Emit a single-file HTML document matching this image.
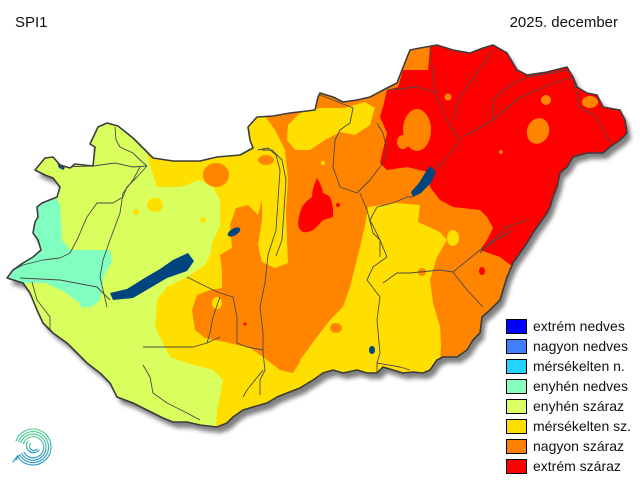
<!DOCTYPE html>
<html>
<head>
<meta charset="utf-8">
<style>
html,body{margin:0;padding:0;background:#fff;}
svg{display:block;}
text{font-family:"Liberation Sans",Arial,sans-serif;fill:#111;}
</style>
</head>
<body>
<svg width="640" height="480" viewBox="0 0 640 480" xmlns="http://www.w3.org/2000/svg">
<defs>
<clipPath id="hu">
<path id="hup" d="M35,170 L45,158 L53,157 L60,165 L70,168 L75,164 L93,166 L95,147 L90,144 L98,127 L107,123 L118,126 L133,138 L147,152 L153,158 L173,161 L200,161 L217,157 L240,155 L253,148 L250,140 L248,127 L257,117 L273,116 L290,113 L315,110 L318,97 L320,93 L333,97 L343,102 L357,100 L370,97 L387,88 L397,83 L402,70 L410,50 L420,48 L437,45 L453,50 L470,53 L483,48 L493,45 L507,53 L517,70 L527,75 L547,72 L567,67 L573,77 L577,87 L587,93 L597,95 L603,107 L620,110 L625,120 L627,133 L620,140 L610,147 L603,153 L587,153 L573,157 L567,167 L560,173 L557,187 L553,197 L550,207 L547,213 L537,227 L533,233 L527,243 L520,253 L513,263 L507,277 L500,300 L490,310 L482,317 L480,333 L473,340 L467,350 L457,357 L443,357 L437,360 L430,370 L423,373 L413,372 L403,373 L393,370 L383,367 L377,373 L367,373 L357,370 L343,373 L333,370 L323,373 L313,380 L300,388 L287,393 L277,397 L267,403 L253,407 L243,410 L233,417 L227,423 L217,427 L200,425 L187,422 L173,422 L163,418 L147,410 L133,403 L117,397 L110,383 L100,373 L87,363 L77,353 L67,343 L53,333 L43,323 L37,310 L30,293 L23,283 L7,278 L13,270 L23,263 L33,257 L41,250 L38,240 L33,233 L35,222 L38,217 L37,207 L42,203 L57,197 L60,187 L53,178 L45,175 Z"/>
</clipPath>
<filter id="sh" x="-10%" y="-10%" width="130%" height="130%">
<feGaussianBlur stdDeviation="2.2"/>
</filter>
<linearGradient id="lg" x1="0" y1="0" x2="0" y2="1">
<stop offset="0" stop-color="#62d292"/>
<stop offset="1" stop-color="#2e96c8"/>
</linearGradient>
</defs>

<use href="#hup" fill="#6a6a6a" opacity="0.85" transform="translate(4,6)" filter="url(#sh)"/>

<g clip-path="url(#hu)">
<rect x="0" y="0" width="640" height="480" fill="#d9ff5e"/>
<polygon fill="#80ffc0" points="0,195 55,195 60,205 62,240 70,250 110,250 112,262 104,275 100,300 90,308 75,300 65,292 45,283 0,283"/>
<circle cx="83" cy="305" r="3" fill="#80ffc0"/>
<polygon fill="#ffdf00" points="140,100 148,160 157,187 180,187 200,180 213,187 220,200 220,227 213,240 210,255 205,265 187,277 167,287 157,300 155,327 163,343 170,357 187,363 213,370 223,380 220,395 217,410 215,440 640,440 640,0 140,0"/>
<ellipse cx="155" cy="205" rx="8" ry="7" fill="#ffdf00"/>
<circle cx="136" cy="212" r="3" fill="#ffdf00"/>
<circle cx="203" cy="220" r="3" fill="#ffdf00"/>
<ellipse cx="216" cy="175" rx="13" ry="12" fill="#ff8400"/>
<polygon fill="#ff8400" points="262,95 300,0 640,0 640,480 445,480 445,380 300,362 293,373 280,370 263,357 250,348 225,342 205,338 195,330 192,310 197,295 210,290 222,288 222,270 220,255 232,248 230,225 236,208 248,205 258,215 262,200 262,150 265,125"/>
<polygon fill="#ffdf00" points="255,120 262,112 275,130 285,150 288,180 286,210 287,240 288,263 275,268 262,262 258,245 262,220 262,200 260,170 257,150 250,140"/>
<ellipse cx="266" cy="160" rx="8" ry="5" fill="#ff8400"/>
<polygon fill="#ffdf00" points="288,125 300,113 320,108 345,108 365,102 375,108 370,125 355,135 340,132 325,140 310,150 295,150 287,140"/>
<circle cx="323" cy="163" r="2" fill="#ffdf00"/>
<polygon fill="#ffdf00" points="368,207 395,203 420,205 418,222 440,232 447,240 437,257 430,280 433,303 440,327 441,345 440,360 440,400 300,400 300,360 317,337 330,320 343,307 350,287 360,247 365,225"/>
<ellipse cx="453" cy="238" rx="6" ry="8" fill="#ffdf00"/>
<circle cx="422" cy="272" r="4" fill="#ff8400"/>
<ellipse cx="336" cy="328" rx="6" ry="5" fill="#ff8400"/>
<ellipse cx="217" cy="303" rx="5" ry="6" fill="#ffdf00"/>
<polygon fill="#ff0000" points="430,0 640,0 640,300 513,267 500,257 480,250 487,240 493,228 487,217 480,210 453,207 440,200 430,187 428,172 407,167 387,170 380,163 383,150 387,133 380,117 383,107 387,90 398,87 403,70 428,70 430,47"/>
<ellipse cx="417" cy="130" rx="14" ry="21" fill="#ff8400"/>
<ellipse cx="403" cy="142" rx="6" ry="7" fill="#ff8400"/>
<ellipse cx="538" cy="131" rx="11" ry="13" fill="#ff8400" transform="rotate(20 538 131)"/>
<circle cx="546" cy="100" r="5" fill="#ff8400"/>
<ellipse cx="590" cy="102" rx="8" ry="6" fill="#ff8400"/>
<circle cx="448" cy="97" r="3.5" fill="#ff8400"/>
<circle cx="501" cy="152" r="2" fill="#ff8400"/>
<path fill="#ff0000" d="M317,178 Q322,186 323,193 Q328,195 330,197 Q334,207 333,217 Q327,219 323,220 Q318,226 313,230 Q307,233 303,232 Q298,229 298,223 Q299,214 302,207 Q307,200 312,197 Q312,189 317,178 Z"/>
<circle cx="338" cy="205" r="2" fill="#ff0000"/>
<ellipse cx="482" cy="271" rx="3" ry="4" fill="#ff0000"/>
<circle cx="245" cy="324" r="1.5" fill="#ff0000"/>
<path fill="#00457f" d="M110,293 L113,300 L133,298 L150,288 L167,278 L187,271 L194,261 L188,253 L173,260 L160,269 L143,279 L127,289 Z"/>
<ellipse cx="234" cy="232" rx="7" ry="3.5" fill="#00457f" transform="rotate(-30 234 232)"/>
<polygon fill="#00457f" points="430,166 436,172 431,183 421,193 413,197 411,192 419,183 425,173"/>
<ellipse cx="372" cy="350" rx="3" ry="4" fill="#00457f"/>
<polygon fill="#00457f" points="57,162 65,164 64,170 59,168"/>
<g fill="none" stroke="#4a4a4a" stroke-width="0.9" stroke-linejoin="round">
<polyline points="115,127 116,140 120,147 133,153 140,160 147,166"/>
<polyline points="60,167 93,166 115,163 133,167 147,166"/>
<polyline points="147,166 137,177 127,187 123,197 113,203 97,203 87,217 77,240 70,253 60,258 43,260 23,265 13,270"/>
<polyline points="140,167 133,180 123,193 120,213 110,240 103,260 100,277 107,307"/>
<polyline points="258,150 268,148 276,155 280,170 278,200 276,230 268,255 265,283 260,307 263,333 263,353 265,370 260,380 260,395"/>
<polyline points="262,150 272,150 282,160 286,180 284,210 282,240 276,256"/>
<polyline points="32,282 37,300 50,317 50,330"/>
<polyline points="20,278 60,280 97,287 110,300"/>
<polyline points="143,347 173,347 193,347 207,343 220,337"/>
<polyline points="143,365 150,377 153,393 167,403 187,413 200,420"/>
<polyline points="187,277 207,287 220,293 233,297"/>
<polyline points="233,297 237,317 237,343 247,347 263,350"/>
<polyline points="220,297 213,317 210,333 207,343"/>
<polyline points="263,370 247,390 243,397"/>
<polyline points="370,220 380,240 387,257 373,267 367,280 380,297 377,320 380,353 377,363 377,373"/>
<polyline points="377,363 400,367 410,370"/>
<polyline points="383,283 397,273 410,273 440,270 453,272 480,250 513,230"/>
<polyline points="453,272 467,290 483,307"/>
<polyline points="320,95 333,100 353,108 350,123 340,130 335,140 333,167 340,187 357,193 370,180 383,163 387,150 383,133 377,123"/>
<polyline points="360,193 367,210 373,233 380,240 380,257"/>
<polyline points="387,90 417,87 437,93"/>
<polyline points="430,47 435,93 445,117 453,130"/>
<polyline points="493,50 477,73 460,97 453,120"/>
<polyline points="453,130 460,140 453,150 443,163 433,170"/>
<polyline points="463,137 493,120 493,100 507,87 527,77 553,73 567,70"/>
<polyline points="493,120 520,97 553,83 573,77"/>
<polyline points="573,77 580,107 597,117 610,143"/>
<polyline points="413,197 407,197 393,203 377,207 370,220"/>
<polyline points="480,253 493,240 507,227 527,220"/>
</g>
</g>
<use href="#hup" fill="none" stroke="#3c3c3c" stroke-width="1.6" stroke-linejoin="round"/>

<text x="15" y="27" font-size="15">SPI1</text>
<text x="618" y="27" font-size="15" text-anchor="end">2025. december</text>

<g stroke="#000" stroke-width="1">
<rect x="506.5" y="319.5" width="20" height="14" fill="#0000ff"/>
<rect x="506.5" y="339.5" width="20" height="14" fill="#4080ff"/>
<rect x="506.5" y="359.5" width="20" height="14" fill="#22d4ff"/>
<rect x="506.5" y="379.5" width="20" height="14" fill="#86ffc0"/>
<rect x="506.5" y="399.5" width="20" height="14" fill="#dcff66"/>
<rect x="506.5" y="419.5" width="20" height="14" fill="#ffdd00"/>
<rect x="506.5" y="439.5" width="20" height="14" fill="#ff8000"/>
<rect x="506.5" y="459.5" width="20" height="14" fill="#ff0000"/>
</g>
<g font-size="14">
<text x="533" y="331">extrém nedves</text>
<text x="533" y="351">nagyon nedves</text>
<text x="533" y="371">mérsékelten n.</text>
<text x="533" y="391">enyhén nedves</text>
<text x="533" y="411">enyhén száraz</text>
<text x="533" y="431">mérsékelten sz.</text>
<text x="533" y="451">nagyon száraz</text>
<text x="533" y="471">extrém száraz</text>
</g>

<g fill="none" stroke="url(#lg)" stroke-width="1.2" stroke-linecap="round">
<path d="M16.1,440.8 A18,18 0 1 1 17.4,456 L13,462"/>
<path d="M18.6,441.5 A15.5,15.5 0 1 1 19.6,454.8 L16,460"/>
<path d="M21,442.4 A13,13 0 1 1 21.7,453.5"/>
<path d="M23.4,443.5 A10.5,10.5 0 1 1 24,452.3"/>
<path d="M28,441 A6.5,6.5 0 1 0 39,450"/>
<path d="M30.5,443.5 A3.8,3.8 0 1 0 37,449"/>
</g>
</svg>
</body>
</html>
